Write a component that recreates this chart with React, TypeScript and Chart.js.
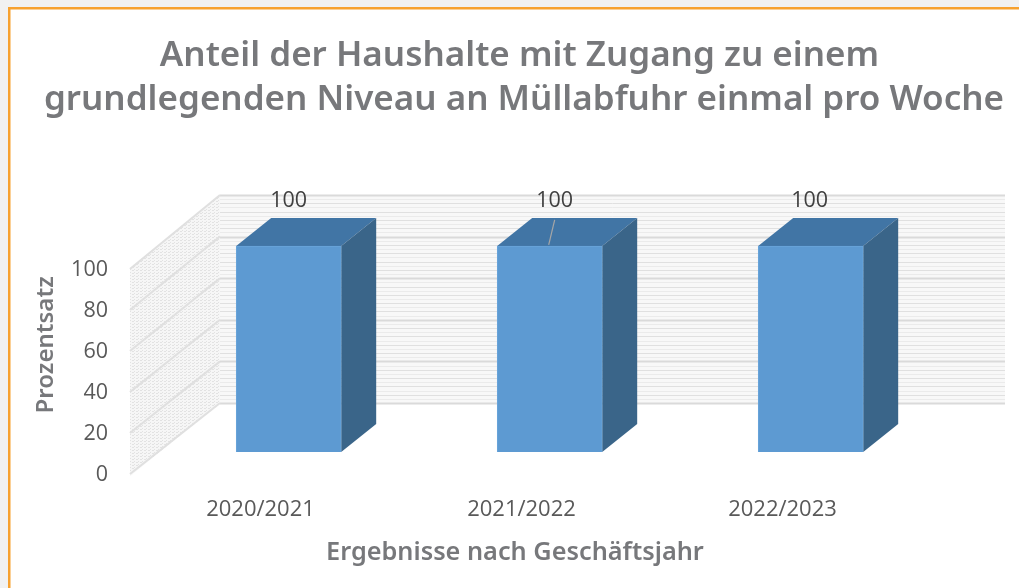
import React, { useEffect, useRef } from "react";
import { Chart, registerables } from "chart.js";

Chart.register(...registerables);

const categories = ["2020/2021", "2021/2022", "2022/2023"];
const shares = [100, 100, 100];
const yTicksMax = 100;
const titleLines = ["Anteil der Haushalte mit Zugang zu einem ", "grundlegenden Niveau an Müllabfuhr einmal pro Woche"];
const yTitle = "Prozentsatz ";
const xTitle = "Ergebnisse nach Geschäftsjahr  ";
const labelShift = [0, 5, -1];

const FONT = "'Open Sans', 'Noto Sans', sans-serif";
const HEAD = "'Noto Sans', sans-serif";
const DX = 35;
const DY = -28;

const scenePlugin = {
  id: "scene",
  beforeDraw(chart: any) {
    const { ctx, width, height } = chart;
    ctx.save();
    ctx.fillStyle = "#f1f1f1";
    ctx.fillRect(0, 0, width, height);
    ctx.fillStyle = "#ffffff";
    ctx.fillRect(10, 9, width - 10, height - 9);
    ctx.fillStyle = "#f7a12f";
    ctx.fillRect(8, 7, width - 8, 2.5);
    ctx.fillRect(8, 7, 2.5, height - 7);
    ctx.restore();
  },
  beforeDatasetsDraw(chart: any) {
    const { ctx } = chart;
    const y = chart.scales.y;
    const left = chart.chartArea.left;
    const wallX = left + 90;
    const wallRight = 1005;
    const backY = (v: number) => y.getPixelForValue(v) - 72 - (3 * v) / 100;
    ctx.save();
    // side wall
    ctx.beginPath();
    ctx.moveTo(left, y.getPixelForValue(0) + 1);
    ctx.lineTo(wallX, backY(0));
    ctx.lineTo(wallX, backY(100));
    ctx.lineTo(left, y.getPixelForValue(100) - 2);
    ctx.closePath();
    const tile = document.createElement("canvas");
    tile.width = 4;
    tile.height = 3;
    const t = tile.getContext("2d")!;
    t.fillStyle = "#f6f6f6";
    t.fillRect(0, 0, 4, 3);
    t.fillStyle = "#e2e2e2";
    t.fillRect(0, 0, 2, 1);
    t.fillRect(2, 2, 1, 1);
    ctx.fillStyle = ctx.createPattern(tile, "repeat");
    ctx.fill();
    // back wall
    ctx.fillStyle = "#f8f8f8";
    ctx.fillRect(wallX, backY(100), wallRight - wallX, backY(0) - backY(100));
    for (let v = 0; v <= 100; v += 2) {
      const major = v % 20 === 0;
      const py = Math.round(backY(v)) + 0.5;
      ctx.strokeStyle = major ? "#dadada" : v % 4 === 0 ? "#e0e0e0" : "#ebebeb";
      ctx.lineWidth = major ? 2 : 1;
      ctx.beginPath();
      ctx.moveTo(wallX, py);
      ctx.lineTo(wallRight, py);
      ctx.stroke();
    }
    // diagonals of the side wall
    for (let v = 0; v <= 100; v += 20) {
      ctx.strokeStyle = "#e0e0e0";
      ctx.lineWidth = 2;
      ctx.beginPath();
      ctx.moveTo(left, y.getPixelForValue(v) - 1);
      ctx.lineTo(wallX, backY(v));
      ctx.stroke();
    }
    // bar depth
    chart.getDatasetMeta(0).data.forEach((bar: any) => {
      const l = bar.x - bar.width / 2;
      const r = bar.x + bar.width / 2;
      ctx.fillStyle = "#4175a5";
      ctx.beginPath();
      ctx.moveTo(l, bar.y);
      ctx.lineTo(l + DX, bar.y + DY);
      ctx.lineTo(r + DX, bar.y + DY);
      ctx.lineTo(r, bar.y);
      ctx.closePath();
      ctx.fill();
      ctx.fillStyle = "#3a6589";
      ctx.beginPath();
      ctx.moveTo(r, bar.y);
      ctx.lineTo(r + DX, bar.y + DY);
      ctx.lineTo(r + DX, bar.base + DY);
      ctx.lineTo(r, bar.base);
      ctx.closePath();
      ctx.fill();
    });
    ctx.restore();
  },
  afterDatasetsDraw(chart: any) {
    const { ctx } = chart;
    const bars = chart.getDatasetMeta(0).data;
    ctx.save();
    ctx.font = `21.5px ${FONT}`;
    ctx.fillStyle = "#404040";
    ctx.textAlign = "center";
    ctx.textBaseline = "middle";
    bars.forEach((bar: any, i: number) => {
      ctx.fillText(String(shares[i]), bar.x + labelShift[i], bar.y - 45);
    });
    // leader line of the middle label
    const m = bars[1];
    ctx.strokeStyle = "#a6a6a6";
    ctx.lineWidth = 1.2;
    ctx.beginPath();
    ctx.moveTo(m.x - 1, m.y - 1);
    ctx.lineTo(m.x + 5, m.y - 26);
    ctx.stroke();
    ctx.restore();
  },
};

export default function App() {
  const ref = useRef<HTMLCanvasElement>(null);
  useEffect(() => {
    const chart = new Chart(ref.current!, {
      type: "bar",
      data: {
        labels: categories,
        datasets: [
          {
            data: shares.map((v, i) => ({ x: i, y: v })),
            xAxisID: "xBar",
            yAxisID: "yBar",
            backgroundColor: "#5d9ad2",
            borderColor: "#6aa5da",
            borderWidth: 1,
            barThickness: 105,
            clip: false,
          } as any,
        ],
      },
      options: {
        animation: false,
        responsive: false,
        devicePixelRatio: 1,
        layout: { padding: { left: 29, right: 0, top: 0, bottom: 0 } },
        plugins: {
          legend: { display: false },
          tooltip: { enabled: false },
          title: {
            display: true,
            text: titleLines,
            color: "#77787b",
            font: { family: HEAD, size: 35, weight: "600", lineHeight: 1.257 },
            padding: { top: 34, bottom: 148 },
          },
        },
        scales: {
          x: {
            type: "category",
            labels: categories,
            offset: true,
            grid: { display: false },
            border: { display: false },
            ticks: { color: "#595959", font: { family: FONT, size: 22 }, padding: 14, maxRotation: 0 },
            title: {
              display: true,
              text: xTitle,
              color: "#77787b",
              font: { family: HEAD, size: 25.3, weight: "600" },
              padding: { top: 0, bottom: 20 },
            },
            afterFit(s: any) {
              s.height = 113;
            },
          },
          y: {
            type: "linear",
            min: 0,
            max: yTicksMax,
            grid: { display: false },
            border: { display: false },
            ticks: { stepSize: 20, color: "#595959", font: { family: FONT, size: 21.5 }, padding: 14 },
            title: {
              display: true,
              align: "end",
              text: yTitle,
              color: "#77787b",
              font: { family: HEAD, size: 24, weight: "600" },
              padding: { top: 3, bottom: 0 },
            },
            afterFit(s: any) {
              s.width = 101;
            },
          },
          yRightSpace: {
            type: "linear",
            axis: "y",
            position: "right",
            display: true,
            grid: { display: false },
            border: { display: false },
            ticks: { display: false },
            afterFit(s: any) {
              s.width = 106;
            },
          },
          xBar: { type: "linear", axis: "x", display: false, offset: false, min: -0.608, max: 2.392 },
          yBar: { type: "linear", axis: "y", display: false, min: -11.17, max: 88.34 },
        } as any,
      },
      plugins: [scenePlugin],
    } as any);
    return () => chart.destroy();
  }, []);
  return (
    <canvas
      ref={ref}
      width={1019}
      height={588}
      style={{ position: "fixed", left: 0, top: 0, width: 1019, height: 588, display: "block" }}
    />
  );
}
